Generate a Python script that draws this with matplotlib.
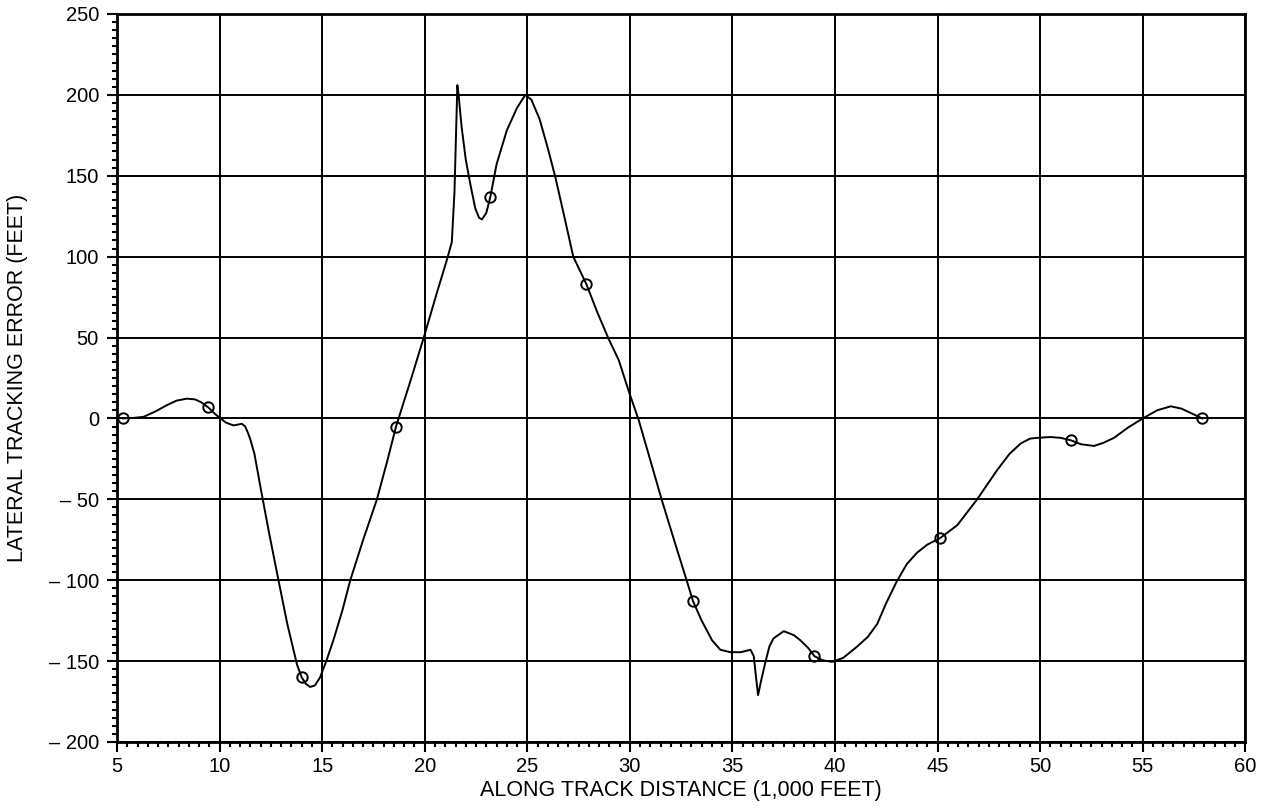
import matplotlib.pyplot as plt
from matplotlib.ticker import MultipleLocator, FuncFormatter

plt.rcParams["font.family"] = ["Liberation Sans", "DejaVu Sans"]

# traced lateral error along the track (x in 1,000 ft, y in ft)
distance = [
    5.3, 5.8, 6.3, 6.9, 7.4, 7.9, 8.4, 8.8, 9.1, 9.45, 9.8, 10.0, 10.3, 10.67,
    10.9, 11.08, 11.25, 11.4, 11.5, 11.7, 12.0, 12.4, 12.87, 13.3, 13.77, 14.0,
    14.2, 14.41, 14.65, 14.9, 15.2, 15.55, 16.0, 16.37, 17.0, 17.67, 18.2, 18.6,
    19.3, 20.0, 20.6, 21.08, 21.32, 21.45, 21.59, 21.65, 21.8, 22.0, 22.22,
    22.46, 22.65, 22.79, 23.0, 23.2, 23.5, 24.0, 24.5, 24.9, 25.2, 25.6, 26.0,
    26.37, 26.8, 27.24, 27.88, 28.4, 28.97, 29.46, 29.94, 30.43, 31.0, 31.57,
    32.2, 32.79, 33.08, 33.5, 34.0, 34.41, 34.9, 35.4, 35.88, 36.04, 36.15,
    36.25, 36.4, 36.6, 36.8, 37.0, 37.5, 38.0, 38.3, 38.7, 39.0, 39.4, 39.86,
    40.4, 41.08, 41.6, 42.06, 42.5, 43.0, 43.5, 44.0, 44.5, 45.12, 45.96,
    46.93, 47.9, 48.5, 49.05, 49.5, 49.86, 50.5, 51.0, 51.49, 52.0, 52.63,
    53.1, 53.6, 54.3, 55.07, 55.7, 56.37, 56.9, 57.4, 57.9,
]
error = [
    0, 0.3, 1, 4.5, 8, 11, 12.2, 11.8, 10, 6.8, 2.5, 0.5, -2.5, -4.3,
    -3.8, -3.3, -5, -9.5, -13, -22, -43, -70, -100, -127, -152, -160,
    -164, -166, -165, -160, -150, -137, -118, -100, -75, -50, -25, -5,
    23, 52, 78, 98, 109, 140, 206, 200, 180, 160, 145,
    130, 124, 123, 127, 137, 157, 178, 192, 200, 197, 185, 167,
    149, 125, 100, 83, 66, 49, 36, 17, -1, -26, -51,
    -77, -101, -113, -125, -137, -143, -144.5, -144.5, -143, -147, -160,
    -171, -162, -151, -141, -136, -131.5, -134, -137, -142, -147, -149.5, -150.5,
    -148, -141, -135, -127, -114, -101, -90, -83, -78, -74, -66,
    -50, -32, -22, -15.5, -12.5, -12, -11.5, -12, -13.5, -16, -17,
    -15, -12, -5.5, 0.5, 5, 7.5, 6, 3, 0,
]

# checkpoint markers
check_x = [5.3, 9.45, 14.0, 18.6, 23.2, 27.88, 33.08, 39.0, 45.12, 51.49, 57.9]
check_y = [0, 6.8, -160, -5, 137, 83, -113, -147, -74, -13.5, 0]

x_ticks = [5, 10, 15, 20, 25, 30, 35, 40, 45, 50, 55, 60]
y_ticks = [-200, -150, -100, -50, 0, 50, 100, 150, 200, 250]

fig = plt.figure(figsize=(12.72, 8.08), dpi=100)
ax = fig.add_axes([0.092, 0.0817, 0.887, 0.901])

ax.plot(distance, error, color="black", linewidth=1.4)
ax.plot(check_x, check_y, linestyle="none", marker="o", markersize=7.5,
        markerfacecolor="none", markeredgecolor="black", markeredgewidth=1.4)

ax.set_xlim(5, 60)
ax.set_ylim(-200, 250)
ax.set_xticks(x_ticks)
ax.set_yticks(y_ticks)
ax.xaxis.set_minor_locator(MultipleLocator(0.5))
ax.yaxis.set_minor_locator(MultipleLocator(5))


def fmt_y(v, pos):
    v = int(round(v))
    return f"\u2013 {abs(v)}" if v < 0 else f"{v}"


ax.yaxis.set_major_formatter(FuncFormatter(fmt_y))

ax.grid(which="major", color="black", linewidth=1.4)
ax.tick_params(which="major", direction="out", length=7, width=1.5,
               labelsize=14.5)
ax.tick_params(axis="y", which="major", pad=6)
ax.tick_params(axis="x", which="major", pad=4)
ax.tick_params(which="minor", direction="out", length=3.5, width=1.5)

for side in ["left", "bottom", "top", "right"]:
    ax.spines[side].set_linewidth(2)

ax.set_xlabel("ALONG TRACK DISTANCE (1,000 FEET)", fontsize=15.5)
ax.set_ylabel("LATERAL TRACKING ERROR (FEET)", fontsize=15.5)
ax.xaxis.set_label_coords(0.5, -0.052)
ax.yaxis.set_label_coords(-0.079, 0.5)

fig.savefig("out.png", dpi=100)
